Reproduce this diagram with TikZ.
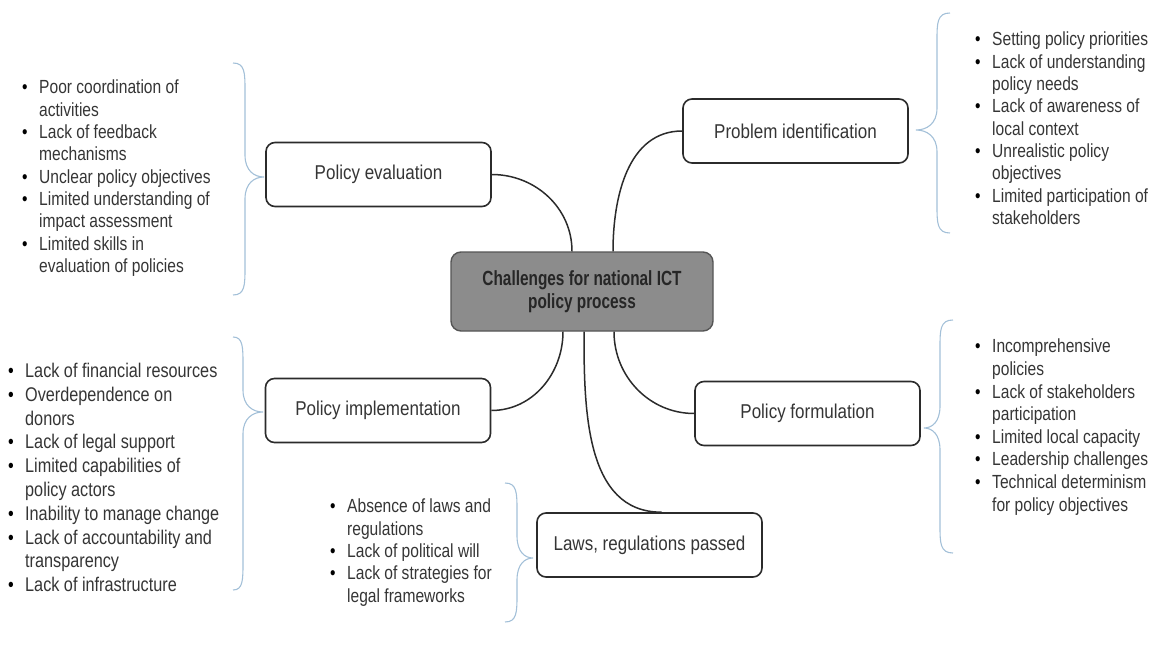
\documentclass[tikz,border=0pt]{standalone}
\usepackage{fontspec}
\setmainfont{Liberation Sans}[FakeStretch=0.82]
\newfontfamily\boxfont{Liberation Sans}[FakeStretch=0.85]
\newfontfamily\hubfont{Liberation Sans}[FakeStretch=0.75]
\usetikzlibrary{positioning}
\definecolor{ink}{HTML}{2B2B2B}
\definecolor{textgray}{HTML}{353535}
\definecolor{hubgray}{HTML}{8C8C8C}
\definecolor{hubedge}{HTML}{555555}
\definecolor{braceblue}{HTML}{A3C0D8}
\newcommand{\bul}{\makebox[17pt][l]{\textcolor{black}{\textbullet}}}
\newcommand{\ind}{\hspace*{17pt}}
% curly brace: end x, spine x, tip x, top y, tip y, bottom y (y downwards)
\newcommand{\curly}[6]{%
  \draw[bracestyle] (#1,-#4) .. controls (#2,-#4) and (#2,{-#4-10}) .. (#2,{-#4-28})
    -- (#2,{-#5+22}) .. controls (#2,{-#5+6}) and ({(#2+#3)/2},-#5) .. (#3,-#5)
    .. controls ({(#2+#3)/2},-#5) and (#2,{-#5-6}) .. (#2,{-#5-22})
    -- (#2,{-#6+28}) .. controls (#2,{-#6+10}) and (#2,-#6) .. (#1,-#6);}
\tikzset{
  hub/.style={draw=hubedge,line width=1.4pt,rounded corners=10pt,fill=hubgray,
    minimum width=262pt,minimum height=79pt,align=center,inner sep=0pt,
    font=\hubfont\bfseries\fontsize{20.5}{23}\selectfont,text=black!85},
  branch/.style={draw=ink,line width=1.6pt,rounded corners=9pt,fill=white,
    minimum width=225pt,minimum height=64pt,inner sep=0pt,
    font=\boxfont\fontsize{20}{24}\selectfont,text=textgray},
  listtext/.style={anchor=north west,align=left,inner sep=0pt,text=textgray,
    font=\fontsize{19}{22.3}\selectfont},
  link/.style={draw=ink,line width=1.5pt},
  bracestyle/.style={draw=braceblue,line width=1.1pt}
}
\begin{document}
\begin{tikzpicture}[x=1pt,y=1pt]
  \useasboundingbox (0,0) rectangle (1152,-650);

  \node[hub] (hub) at (582,-291.5) {Challenges for national ICT\\policy process};
  \node[branch] (eval) at (378.5,-174.5) {Policy evaluation};
  \node[branch] (prob) at (795.5,-131) {Problem identification};
  \node[branch] (impl) at (378,-410.5) {Policy implementation};
  \node[branch] (form) at (807.5,-413.5) {Policy formulation};
  \node[branch] (laws) at (649.5,-545) {Laws, regulations passed};

  \draw[link] (eval.east) to[out=0,in=90] ([xshift=-10pt]hub.north);
  \draw[link] (prob.west) to[out=180,in=90] ([xshift=31pt]hub.north);
  \draw[link] (impl.east) to[out=0,in=-90] ([xshift=-19pt]hub.south);
  \draw[link] (form.west) to[out=180,in=-90] ([xshift=32pt]hub.south);
  \draw[link] ([xshift=2pt]hub.south) to[out=-90,in=180] ([xshift=12pt]laws.north);

  \node[listtext] (evallist) at (22,-80) {\bul Poor coordination of\\\ind activities\\\bul Lack of feedback\\\ind mechanisms\\\bul Unclear policy objectives\\\bul Limited understanding of\\\ind impact assessment\\\bul Limited skills in\\\ind evaluation of policies};
  \node[listtext] (problist) at (975,-32) {\bul Setting policy priorities\\\bul Lack of understanding\\\ind policy needs\\\bul Lack of awareness of\\\ind local context\\\bul Unrealistic policy\\\ind objectives\\\bul Limited participation of\\\ind stakeholders};
  \node[listtext,font=\fontsize{19.8}{23.8}\selectfont] (impllist) at (8,-363) {\bul Lack of financial resources\\\bul Overdependence on\\\ind donors\\\bul Lack of legal support\\\bul Limited capabilities of\\\ind policy actors\\\bul Inability to manage change\\\bul Lack of accountability and\\\ind transparency\\\bul Lack of infrastructure};
  \node[listtext,font=\fontsize{19}{22.6}\selectfont] (formlist) at (975,-339) {\bul Incomprehensive\\\ind policies\\\bul Lack of stakeholders\\\ind participation\\\bul Limited local capacity\\\bul Leadership challenges\\\bul Technical determinism\\\ind for policy objectives};
  \node[listtext] (lawslist) at (330,-499) {\bul Absence of laws and\\\ind regulations\\\bul Lack of political will\\\bul Lack of strategies for\\\ind legal frameworks};

  \curly{233}{245}{264}{63}{177}{295}
  \curly{950}{937}{916}{13}{130}{233}
  \curly{233}{243}{263}{337}{412}{590}
  \curly{953}{940}{924}{320}{428}{553}
  \curly{505}{517}{533}{483}{558}{622}
\end{tikzpicture}
\end{document}
